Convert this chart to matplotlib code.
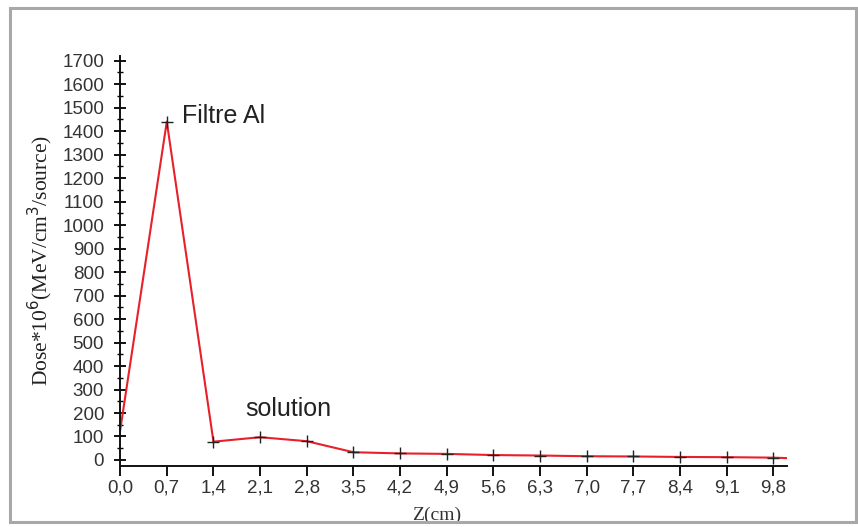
import numpy as np
import matplotlib.pyplot as plt
from matplotlib.patches import Rectangle
from matplotlib.ticker import MultipleLocator, FixedLocator

# depth (cm) and dose values
z = [0.0, 0.7, 1.4, 2.1, 2.8, 3.5, 4.2, 4.9, 5.6, 6.3, 7.0, 7.7, 8.4, 9.1, 9.8, 10.0]
dose = [125, 1440, 78, 97, 80, 33, 28, 26, 21, 19, 16, 15, 13, 12, 10, 8]
xticks = [0.0, 0.7, 1.4, 2.1, 2.8, 3.5, 4.2, 4.9, 5.6, 6.3, 7.0, 7.7, 8.4, 9.1, 9.8]
xtick_labels = [f"{t:.1f}".replace(".", ",") for t in xticks]

plt.rcParams['font.family'] = ['Liberation Sans', 'DejaVu Sans']

fig = plt.figure(figsize=(8.58, 5.27), dpi=100)
ax = fig.add_axes([0.14, 0.116, 0.777, 0.778])

# outer grey frame
fig.patches.append(Rectangle((0.012, 0.009), 0.986, 0.976, transform=fig.transFigure,
                             fill=False, edgecolor='#a8a8a8', linewidth=2.2))

ax.plot(z, dose, color='#e8202a', linewidth=1.5, marker='+', markersize=8,
        markeredgecolor='#222222', markeredgewidth=1.0, markevery=list(range(1, len(z) - 1)))

ax.set_xlim(0, 10.0)
ax.set_ylim(-25, 1720)
ax.xaxis.set_major_locator(FixedLocator(xticks))
ax.set_xticklabels(xtick_labels)
ax.yaxis.set_major_locator(MultipleLocator(100))
ax.yaxis.set_minor_locator(MultipleLocator(50))

for s in ['top', 'right']:
    ax.spines[s].set_visible(False)
for s in ['left', 'bottom']:
    ax.spines[s].set_linewidth(1.4)
    ax.spines[s].set_color('#111111')

ax.tick_params(axis='both', which='major', labelsize=13.5, labelcolor='#333333',
               width=1.4, length=7, color='#111111')
ax.tick_params(axis='x', which='major', pad=3)
ax.tick_params(axis='y', which='major', direction='inout', length=9, pad=7)
ax.tick_params(axis='y', which='minor', direction='inout', length=5, width=1.0)

ax.set_xlabel("Z(cm)", fontfamily='Liberation Serif', fontsize=14, color='#333333')
ax.xaxis.set_label_coords(0.475, -0.1)
ax.set_ylabel("Dose*10$^{6}$(MeV/cm$^{3}$/source)", fontfamily='Liberation Serif',
              fontsize=15.5, color='#222222')
ax.yaxis.set_label_coords(-0.097, 0.50)

ax.text(0.93, 1435, "Filtre Al", fontsize=18, color='#222222')
ax.text(1.88, 188, "solution", fontsize=18, color='#222222')

plt.savefig("out.png", dpi=100)
